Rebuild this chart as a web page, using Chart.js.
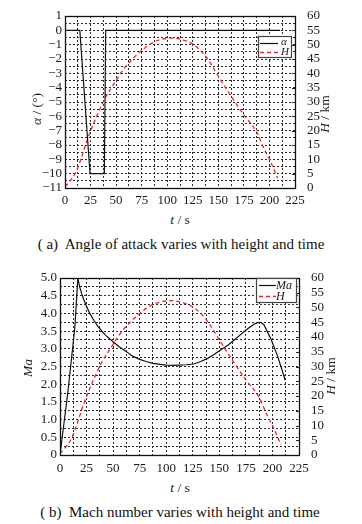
<!DOCTYPE html>
<html><head><meta charset="utf-8">
<script src="https://cdn.jsdelivr.net/npm/chart.js@4.4.1/dist/chart.umd.min.js"></script>
<style>
html,body{margin:0;padding:0;background:#fff;}
body{width:362px;height:524px;position:relative;overflow:hidden;font-family:"Liberation Serif","DejaVu Serif",serif;color:#1a1a1a;}
canvas{position:absolute;left:0;}
.t{position:absolute;white-space:pre;transform:translate(-50%,-50%);font-size:13.5px;line-height:1;}
.r{transform:translate(-50%,-50%) rotate(-90deg);}
.cap{font-size:15px;color:#111;}
</style></head>
<body>
<canvas id="c1" width="362" height="212" style="top:0"></canvas>
<canvas id="c2" width="362" height="218" style="top:262px"></canvas>

<div class="t r" style="left:37px;top:109px"><i>α</i> / (°)</div>
<div class="t r" style="left:325px;top:114px"><i>H</i> / km</div>
<div class="t" style="left:180px;top:220px"><i>t</i> / s</div>
<div class="t cap" style="left:181px;top:244px">( a)  Angle of attack varies with height and time</div>

<div class="t r" style="left:28px;top:368px"><i>Ma</i></div>
<div class="t r" style="left:331px;top:376px"><i>H</i> / km</div>
<div class="t" style="left:180px;top:488px"><i>t</i> / s</div>
<div class="t cap" style="left:180px;top:512px">( b)  Mach number varies with height and time</div>

<script>
// ---- data ----
const timeTickLabels = ['0','25','50','75','100','125','150','175','200','225'];
const alphaTickLabels = ['1','0','−1','−2','−3','−4','−5','−6','−7','−8','−9','−10','−11'];
const heightTickLabels = ['0','5','10','15','20','25','30','35','40','45','50','55','60'];
const machTickLabels = ['0','0.5','1.0','1.5','2.0','2.5','3.0','3.5','4.0','4.5','5.0'];

const timeAlpha = [0, 14.5, 24.5, 38.5, 39.8, 210.5];
const alphaDeg  = [0, 0, -10, -10, 0, 0];

const timeH   = [0, 5, 11, 16, 22, 28, 38, 50, 58, 65, 75, 87.5, 100, 106, 112.5, 125, 137.5, 150, 162.5, 175, 187.5, 195, 200, 208];
const heightKm = [0.5, 2.5, 5.8, 10.5, 17, 22.5, 30.5, 37.5, 41.8, 44.6, 48, 51, 52.2, 52.3, 51.9, 50.2, 46, 39, 32, 25.5, 19.5, 13.5, 10, 3.5];

const timeMa = [0, 7.5, 14, 16.8, 18.5, 20.5, 22.5, 25, 28, 32, 36, 43, 50, 56, 62.5, 68, 75, 81, 87.5, 94, 100, 106, 112.5, 119, 126, 132.5, 139, 145, 151.5, 158, 164, 170, 176, 183, 186, 189, 192, 199, 205, 212];
const machNum = [0, 1.8, 3.6, 5.0, 4.75, 4.55, 4.38, 4.2, 4.0, 3.8, 3.62, 3.38, 3.2, 3.05, 2.92, 2.8, 2.7, 2.64, 2.59, 2.56, 2.54, 2.53, 2.54, 2.55, 2.57, 2.64, 2.73, 2.84, 2.97, 3.1, 3.25, 3.4, 3.55, 3.7, 3.74, 3.75, 3.68, 3.25, 2.78, 2.12];

const pts = (xs, ys) => xs.map((x, i) => ({x, y: ys[i]}));
const near = (v, s) => Math.abs(v / s - Math.round(v / s)) < 1e-6;

const FAM = '"Liberation Serif", "DejaVu Serif", serif';
const FONT = {family: FAM, size: 13};
const TXT = '#1a1a1a';
const RED = '#e8262e';

const framePlugin = {
  id: 'frame',
  afterDatasetsDraw(chart, args, o) {
    const {ctx, chartArea: a} = chart;
    ctx.save();
    const r = chart.scales.y2;
    ctx.strokeStyle = '#222'; ctx.lineWidth = 1;
    r.ticks.forEach(t => {
      const y = Math.round(r.getPixelForValue(t.value)) + 0.5;
      ctx.beginPath(); ctx.moveTo(a.right - 3, y); ctx.lineTo(a.right, y); ctx.stroke();
    });
    ctx.lineWidth = 1.3; ctx.strokeStyle = '#111';
    ctx.strokeRect(Math.round(a.left) + 0.5, Math.round(a.top) + 0.5, Math.round(a.right - a.left), Math.round(a.bottom - a.top));
    const L = o.legend;
    const bx = a.right - L.right - L.width, by = a.top + L.top;
    ctx.fillStyle = '#fff';
    ctx.fillRect(bx, by, L.width, L.height);
    ctx.lineWidth = 1.2; ctx.strokeStyle = '#444';
    ctx.strokeRect(bx + 0.5, by + 0.5, L.width, L.height);
    chart.data.datasets.forEach((ds, i) => {
      const y = Math.round(by + L.row0 + i * L.rowH) + 0.5;
      ctx.beginPath();
      ctx.setLineDash(ds.borderDash || []);
      ctx.strokeStyle = ds.borderColor; ctx.lineWidth = ds.borderWidth || 1;
      ctx.moveTo(bx + L.lx0, y); ctx.lineTo(bx + L.lx1, y); ctx.stroke();
      ctx.setLineDash([]);
      ctx.fillStyle = TXT;
      ctx.font = 'italic ' + L.fs + 'px ' + FAM;
      ctx.textBaseline = 'middle'; ctx.textAlign = 'left';
      ctx.fillText(ds.label, bx + L.tx, y - (L.dy ? L.dy[i] : 0));
    });
    ctx.restore();
  }
};

function makeChart(id, cfg) {
  const leftW = cfg.leftW, rightW = cfg.rightW, botH = cfg.botH;
  return new Chart(document.getElementById(id), {
    type: 'line',
    data: {datasets: cfg.datasets},
    options: {
      responsive: false, animation: false, devicePixelRatio: 1,
      layout: {padding: {top: 16, left: 0, right: 0, bottom: 0}},
      plugins: {legend: {display: false}, tooltip: {enabled: false}, frame: {legend: cfg.legend}},
      elements: {point: {radius: 0}, line: {borderWidth: 1}},
      scales: {
        x: {
          type: 'linear', min: 0, max: 225,
          afterFit: s => { s.height = botH; },
          border: {display: false, dash: [2, 2]},
          grid: {color: '#2a2a2a', lineWidth: 1, drawTicks: false},
          ticks: {stepSize: 12.5, autoSkip: false, maxRotation: 0, padding: cfg.xPad, color: TXT, font: FONT,
            callback: v => near(v, 25) ? timeTickLabels[Math.round(v / 25)] : ''}
        },
        y: {
          type: 'linear', position: 'left', min: cfg.yMin, max: cfg.yMax,
          afterFit: s => { s.width = leftW; },
          border: {display: false, dash: [2, 2]},
          grid: {color: '#2a2a2a', lineWidth: 1, drawTicks: false},
          ticks: {stepSize: cfg.yStep, autoSkip: false, padding: 3, color: TXT, font: FONT, callback: cfg.yLabel}
        },
        y2: {
          type: 'linear', position: 'right', min: 0, max: 60,
          afterFit: s => { s.width = rightW; },
          border: {display: false},
          grid: {display: false, drawOnChartArea: false},
          ticks: {stepSize: 5, autoSkip: false, padding: 4, color: TXT, font: FONT,
            callback: v => heightTickLabels[Math.round(v / 5)]}
        }
      }
    },
    plugins: [framePlugin]
  });
}

makeChart('c1', {
  leftW: 65, rightW: 67, botH: 24, xPad: 5,
  yMin: -11, yMax: 1, yStep: 0.5,
  yLabel: v => near(v, 1) ? alphaTickLabels[Math.round(1 - v)] : '',
  legend: {right: 4, top: 20, width: 33, height: 21, row0: 6.5, rowH: 9, lx0: 2, lx1: 20, tx: 23, fs: 11, dy: [1.5, 0]},
  datasets: [
    {label: 'α', data: pts(timeAlpha, alphaDeg), borderColor: '#111', borderWidth: 1.2, yAxisID: 'y', tension: 0},
    {label: 'H', data: pts(timeH, heightKm), borderColor: RED, borderWidth: 1.3, borderDash: [4, 3], yAxisID: 'y2', cubicInterpolationMode: 'monotone'}
  ]
});

makeChart('c2', {
  leftW: 60, rightW: 63, botH: 25, xPad: 6,
  yMin: 0, yMax: 5, yStep: 0.25,
  yLabel: v => near(v, 0.5) ? machTickLabels[Math.round(v * 2)] : '',
  legend: {right: 3, top: 0, width: 40, height: 24, row0: 6.5, rowH: 11.4, lx0: 3, lx1: 20, tx: 20, fs: 12},
  datasets: [
    {label: 'Ma', data: pts(timeMa, machNum), borderColor: '#111', borderWidth: 1.2, yAxisID: 'y', tension: 0},
    {label: 'H', data: pts(timeH, heightKm), borderColor: RED, borderWidth: 1.3, borderDash: [4, 3], yAxisID: 'y2', cubicInterpolationMode: 'monotone'}
  ]
});
</script>
</body></html>
